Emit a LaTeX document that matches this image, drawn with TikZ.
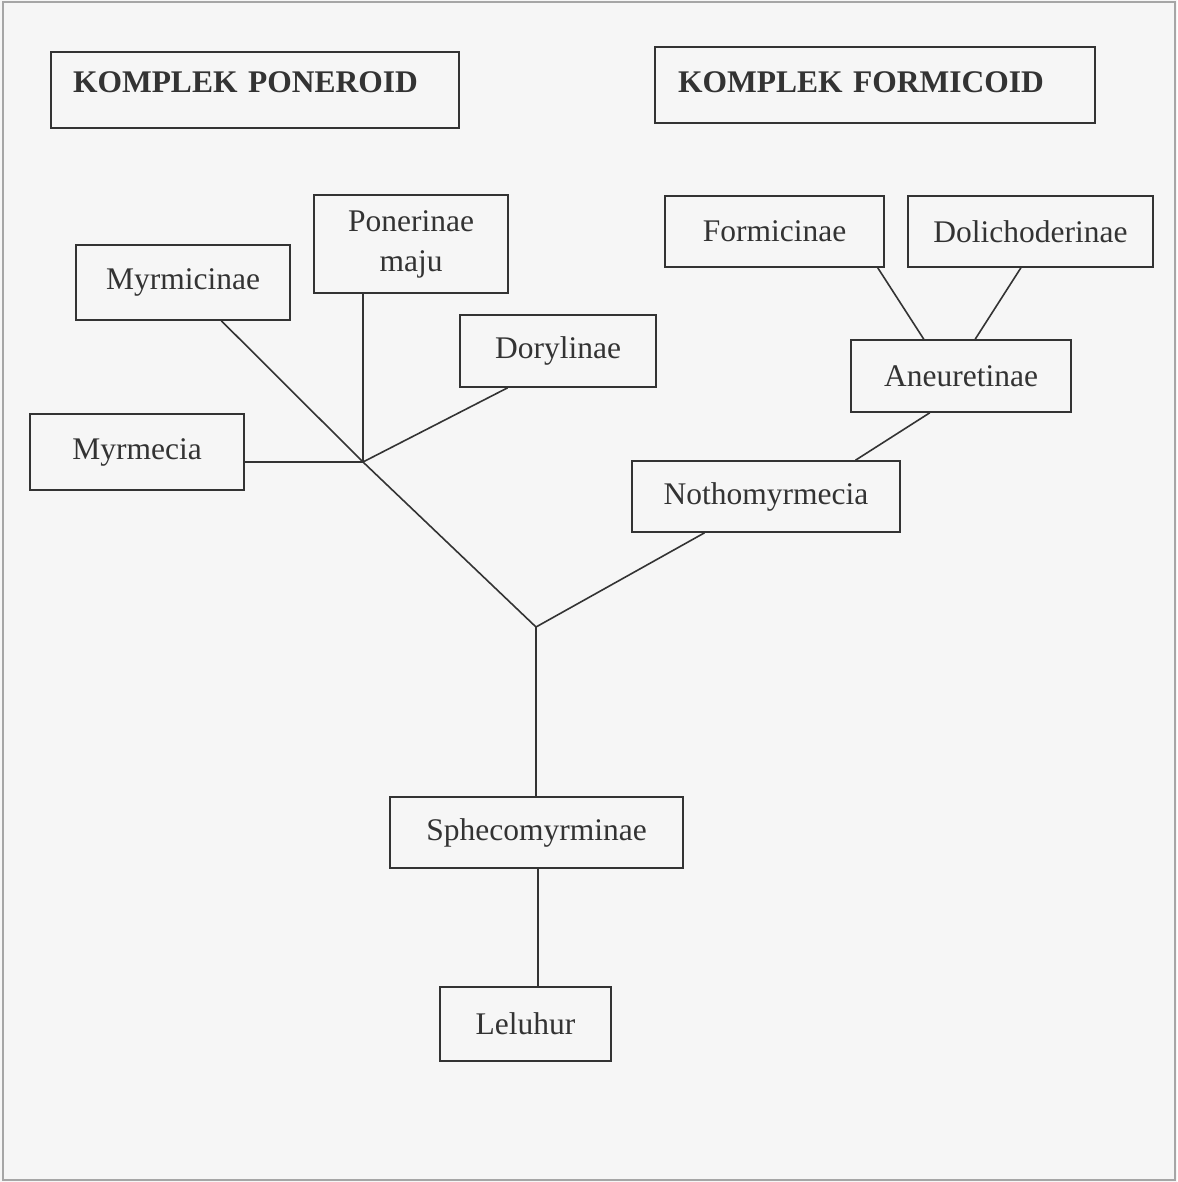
\documentclass[tikz,border=0pt]{standalone}
\usepackage{fontspec}
\setmainfont{Liberation Serif}
\usetikzlibrary{calc}
\definecolor{ink}{HTML}{333333}
\definecolor{paper}{HTML}{F6F6F6}
\begin{document}
\begin{tikzpicture}[x=1pt,y=-1pt,
  box/.style={draw=ink, line width=1.6pt, text=ink, inner sep=0pt,
    font=\fontsize{31.5}{40}\selectfont},
  title/.style={box, font=\bfseries\fontsize{31.5}{40}\selectfont, align=left},
  link/.style={draw=ink, line width=1.6pt}]
\useasboundingbox (0,0) rectangle (1177,1182);
\fill[paper] (0,0) rectangle (1177,1182);
\draw[gray!70, line width=1.5pt] (3,2) rectangle (1175,1180);

% titles
\node[title, text width=364pt, inner xsep=22pt, minimum height=76pt, text depth=16pt] (tp) at (255,90) {KOMPLEK PONEROID};
\node[title, text width=394pt, inner xsep=23pt, minimum height=76pt, text depth=6pt] (tf) at (875,85) {KOMPLEK FORMICOID};

% poneroid
\node[box, minimum width=214pt, minimum height=75pt] (myrmicinae) at (183,282.5) {Myrmicinae};
\node[box, minimum width=194pt, minimum height=98pt, align=center] (ponerinae) at (411,244) {Ponerinae\\maju};
\node[box, minimum width=196pt, minimum height=72pt] (dorylinae) at (558,351) {Dorylinae};
\node[box, minimum width=214pt, minimum height=76pt] (myrmecia) at (137,452) {Myrmecia};

% formicoid
\node[box, minimum width=219pt, minimum height=71pt] (formicinae) at (774.5,231.5) {Formicinae};
\node[box, minimum width=245pt, minimum height=71pt] (dolicho) at (1030.5,231.5) {Dolichoderinae};
\node[box, minimum width=220pt, minimum height=72pt] (aneuretinae) at (961,376) {Aneuretinae};
\node[box, minimum width=268pt, minimum height=71pt] (nothomyrmecia) at (766,496.5) {Nothomyrmecia};

% trunk
\node[box, minimum width=293pt, minimum height=71pt] (spheco) at (536.5,832.5) {Sphecomyrminae};
\node[box, minimum width=171pt, minimum height=74pt] (leluhur) at (525.5,1024) {Leluhur};

\coordinate (P) at (363,462);
\coordinate (Y) at (536,627);

\draw[link] ($(myrmicinae.south west)!0.678!(myrmicinae.south east)$) -- (P);
\draw[link] (P |- ponerinae.south) -- (P);
\draw[link] ($(dorylinae.south west)!0.245!(dorylinae.south east)$) -- (P);
\draw[link] (P -| myrmecia.east) -- (P);
\draw[link] (P) -- (Y);
\draw[link] ($(nothomyrmecia.south west)!0.272!(nothomyrmecia.south east)$) -- (Y);
\draw[link] (Y) -- (Y |- spheco.north);
\coordinate (sb) at ($(spheco.south west)!0.505!(spheco.south east)$);
\draw[link] (sb) -- (sb |- leluhur.north);
\draw[link] ($(aneuretinae.south west)!0.359!(aneuretinae.south east)$) -- ($(nothomyrmecia.north west)!0.832!(nothomyrmecia.north east)$);
\draw[link] ($(formicinae.south west)!0.968!(formicinae.south east)$) -- ($(aneuretinae.north west)!0.332!(aneuretinae.north east)$);
\draw[link] ($(dolicho.south west)!0.461!(dolicho.south east)$) -- ($(aneuretinae.north west)!0.564!(aneuretinae.north east)$);
\end{tikzpicture}
\end{document}
